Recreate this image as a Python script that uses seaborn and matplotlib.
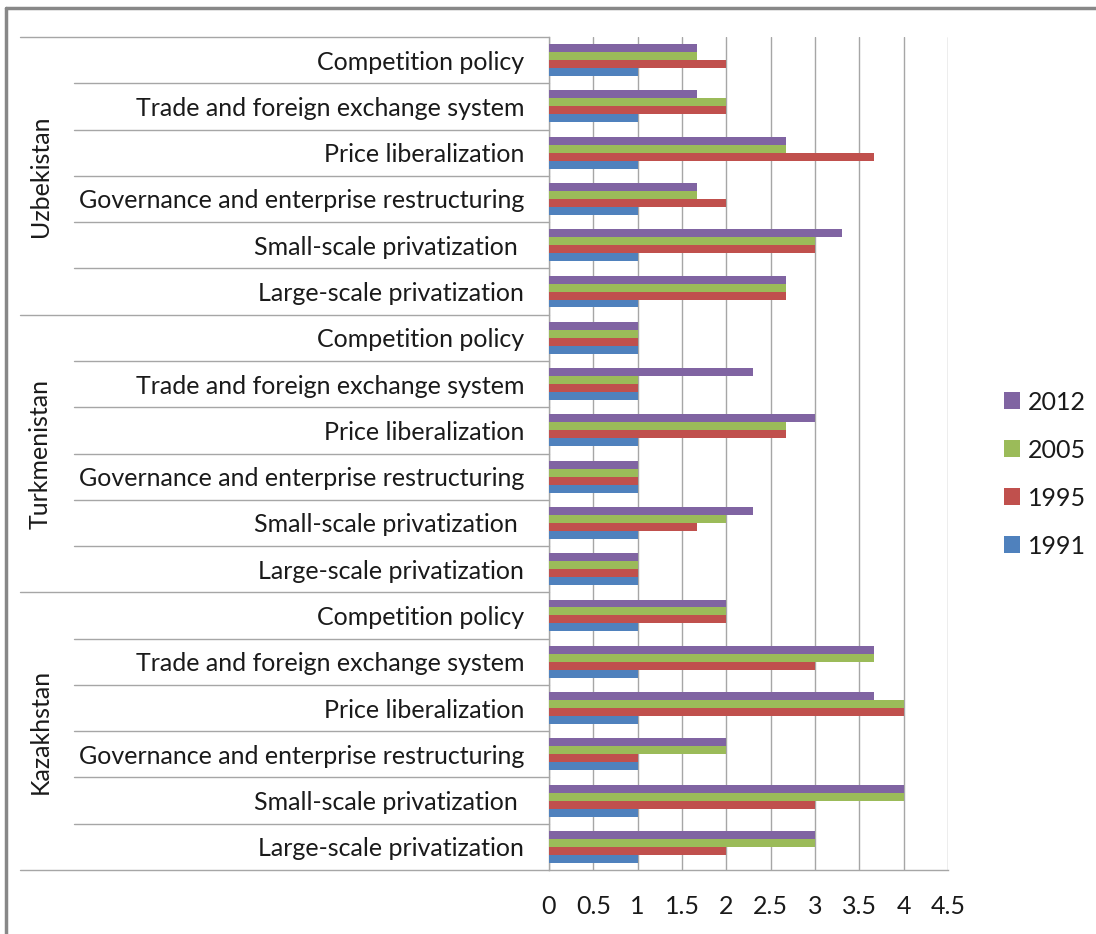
import matplotlib
matplotlib.use("Agg")
import matplotlib.pyplot as plt
import matplotlib.transforms as mtransforms
import seaborn as sns
import pandas as pd

# Reform indicators, listed top to bottom within each country block
indicators = [
    "Competition policy",
    "Trade and foreign exchange system",
    "Price liberalization",
    "Governance and enterprise restructuring",
    "Small-scale privatization ",
    "Large-scale privatization",
]
countries = ["Uzbekistan", "Turkmenistan", "Kazakhstan"]
years = ["2012", "2005", "1995", "1991"]

# Scores per country, one list per year, in the order of `indicators`
uzbekistan = {
    "2012": [1.67, 1.67, 2.67, 1.67, 3.3, 2.67],
    "2005": [1.67, 2.0, 2.67, 1.67, 3.0, 2.67],
    "1995": [2.0, 2.0, 3.67, 2.0, 3.0, 2.67],
    "1991": [1.0, 1.0, 1.0, 1.0, 1.0, 1.0],
}
turkmenistan = {
    "2012": [1.0, 2.3, 3.0, 1.0, 2.3, 1.0],
    "2005": [1.0, 1.0, 2.67, 1.0, 2.0, 1.0],
    "1995": [1.0, 1.0, 2.67, 1.0, 1.67, 1.0],
    "1991": [1.0, 1.0, 1.0, 1.0, 1.0, 1.0],
}
kazakhstan = {
    "2012": [2.0, 3.67, 3.67, 2.0, 4.0, 3.0],
    "2005": [2.0, 3.67, 4.0, 2.0, 4.0, 3.0],
    "1995": [2.0, 3.0, 4.0, 1.0, 3.0, 2.0],
    "1991": [1.0, 1.0, 1.0, 1.0, 1.0, 1.0],
}
x_ticks = [0, 0.5, 1, 1.5, 2, 2.5, 3, 3.5, 4, 4.5]
colors = {"2012": "#8064A2", "2005": "#9BBB59", "1995": "#C0504D", "1991": "#4F81BD"}

scores = {"Uzbekistan": uzbekistan, "Turkmenistan": turkmenistan, "Kazakhstan": kazakhstan}
rows = []
for country in countries:
    for i, ind in enumerate(indicators):
        for yr in years:
            rows.append({"row": f"{country}|{ind}", "indicator": ind,
                         "country": country, "year": yr,
                         "score": scores[country][yr][i]})
df = pd.DataFrame(rows)
row_order = [f"{c}|{ind}" for c in countries for ind in indicators]

sns.set_theme(style="white")
plt.rcParams["font.family"] = ["Lato", "DejaVu Sans"]
text_color = "#1a1a1a"
grid_color = "#A6A6A6"
fs = 18

fig = plt.figure(figsize=(10.96, 9.34), dpi=100)
fig.patch.set_facecolor("white")
W, H = 1096, 934
x0, x1, y_top, y_bot = 549, 948, 37, 870
ax = fig.add_axes([x0 / W, 1 - y_bot / H, (x1 - x0) / W, (y_bot - y_top) / H])

sns.barplot(data=df, y="row", x="score", hue="year", order=row_order,
            hue_order=years, palette=colors, orient="h", width=0.69,
            gap=0, linewidth=0, saturation=1, ax=ax, legend=True, zorder=3)

ax.set_xlim(0, 4.5)
ax.set_ylim(len(row_order) - 0.5, -0.5)
ax.set_xticks(x_ticks)
ax.set_xticklabels([f"{t:g}" for t in x_ticks], fontsize=fs, color=text_color)
ax.tick_params(axis="x", direction="out", length=6, width=1, color=grid_color, pad=12)
ax.set_yticks(range(len(row_order)))
ax.set_yticklabels([r.split("|")[1] for r in row_order], fontsize=fs, color=text_color)
ax.tick_params(axis="y", length=0, pad=18)
ax.set_xlabel("")
ax.set_ylabel("")
ax.grid(axis="x", color=grid_color, linewidth=1, zorder=0)
ax.set_axisbelow(True)
for side in ["top", "right"]:
    ax.spines[side].set_visible(False)
for side in ["left", "bottom"]:
    ax.spines[side].set_color(grid_color)
    ax.spines[side].set_linewidth(1)

# Category separators reaching into the label area
trans = mtransforms.blended_transform_factory(fig.transFigure, ax.transData)
n = len(indicators)
for k in range(len(row_order) + 1):
    yb = k - 0.5
    start = 20 if k % n == 0 else 74
    ax.plot([start / W, x0 / W], [yb, yb], transform=trans, color=grid_color,
            linewidth=1, clip_on=False, zorder=1)
# Country names, rotated, centred on their block
for ci, country in enumerate(countries):
    yc = ci * n + (n - 1) / 2
    ax.text(40 / W, yc, country, transform=trans, rotation=90, ha="center",
            va="center", fontsize=fs, color=text_color)

leg = ax.legend(loc="center left", bbox_to_anchor=(1004 / W, 1 - 474 / H),
                bbox_transform=fig.transFigure, frameon=False, fontsize=fs,
                handlelength=0.65, handleheight=0.65, handletextpad=0.3,
                labelspacing=1.0, borderaxespad=0, borderpad=0)
for t in leg.get_texts():
    t.set_color(text_color)

# Chart frame
fig.add_artist(plt.Line2D([6 / W, 1.0], [1 - 8 / H, 1 - 8 / H], transform=fig.transFigure,
                          color="#888888", linewidth=2.5))
fig.add_artist(plt.Line2D([6 / W, 6 / W], [0, 1 - 8 / H], transform=fig.transFigure,
                          color="#888888", linewidth=2.5))

fig.savefig("out.png", dpi=100, facecolor="white")
